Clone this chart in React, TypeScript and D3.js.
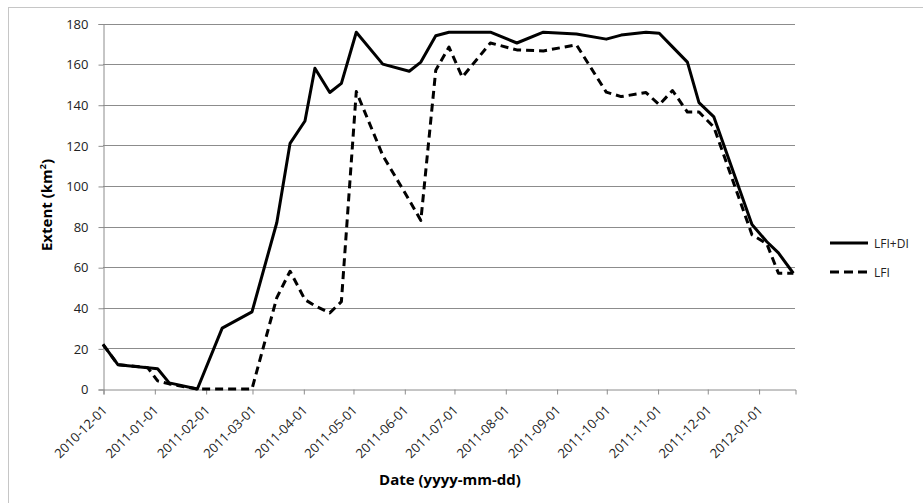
import { useEffect, useRef } from 'react';
import * as d3 from 'd3';

// sample dates of the composites
const dates = [
  '2010-12-01', '2010-12-10', '2010-12-28', '2011-01-03', '2011-01-10', '2011-01-27',
  '2011-02-11', '2011-03-01', '2011-03-16', '2011-03-24', '2011-04-02', '2011-04-08',
  '2011-04-17', '2011-04-24', '2011-05-03', '2011-05-19', '2011-06-04', '2011-06-11',
  '2011-06-20', '2011-06-28', '2011-07-06', '2011-07-23', '2011-08-08', '2011-08-24',
  '2011-09-13', '2011-10-01', '2011-10-10', '2011-10-25', '2011-11-02', '2011-11-10',
  '2011-11-19', '2011-11-26', '2011-12-05', '2011-12-28', '2012-01-06', '2012-01-13',
  '2012-01-22',
];

const lfiDi = [
  22, 12, 10.5, 10, 3, 0,
  30, 38, 82, 121, 132, 158,
  146, 150.5, 175.7, 160, 156.5, 161,
  174, 175.7, 175.7, 175.7, 170.4, 175.7,
  174.8, 172.3, 174.3, 175.7, 175.2, 168.5,
  161, 141, 134, 81, 72.5, 67,
  57,
];

const lfi = [
  22, 12, 10.5, 4, 2.5, 0,
  0, 0, 45, 58, 44, 41,
  37.5, 43, 146.5, 115, 93, 83,
  157, 168.4, 153.6, 170.4, 167, 166.5,
  169.5, 146.2, 144, 146, 140, 147,
  136.4, 136.4, 129, 76, 71.5, 57,
  57,
];

const yTicks = [0, 20, 40, 60, 80, 100, 120, 140, 160, 180];

const monthTicks = [
  '2010-12-01', '2011-01-01', '2011-02-01', '2011-03-01', '2011-04-01', '2011-05-01',
  '2011-06-01', '2011-07-01', '2011-08-01', '2011-09-01', '2011-10-01', '2011-11-01',
  '2011-12-01', '2012-01-01',
];

const seriesNames = ['LFI+DI', 'LFI'];

export default function App() {
  const svgRef = useRef<SVGSVGElement>(null);

  useEffect(() => {
    if (!svgRef.current) return;
    const svg = d3.select(svgRef.current);
    svg.selectAll('*').remove();

    const parse = d3.utcParse('%Y-%m-%d');
    const fmt = d3.utcFormat('%Y-%m-%d');
    const font = '"Open Sans", sans-serif';

    // plot area
    const left = 103, right = 795, top = 23.5, bottom = 389;

    const x = d3.scaleUtc()
      .domain([parse('2010-12-01')!, parse('2012-01-23')!])
      .range([left, right]);
    const y = d3.scaleLinear().domain([0, 180]).range([bottom, top]);

    // outer chart border
    svg.append('rect')
      .attr('x', 8.5).attr('y', 7.5)
      .attr('width', 930).attr('height', 510)
      .attr('fill', 'white')
      .attr('stroke', '#c6c6c6');

    // horizontal grid lines
    svg.append('g')
      .selectAll('line')
      .data(yTicks.filter(d => d > 0))
      .join('line')
      .attr('x1', left).attr('x2', right)
      .attr('y1', d => Math.round(y(d)) + 0.5)
      .attr('y2', d => Math.round(y(d)) + 0.5)
      .attr('stroke', '#8c8c8c');

    // y axis
    const yAxis = svg.append('g')
      .attr('transform', `translate(${left + 0.5},0.5)`)
      .call(d3.axisLeft(y).tickValues(yTicks).tickSize(5).tickPadding(10));
    yAxis.select('.domain').attr('stroke', '#8c8c8c');
    yAxis.selectAll('.tick line').attr('stroke', '#8c8c8c');
    yAxis.selectAll('.tick text')
      .attr('fill', '#222')
      .style('font-family', font)
      .style('font-size', '13px');

    // x axis
    const tickDates = monthTicks.map(d => parse(d)!);
    const xAxis = svg.append('g')
      .attr('transform', `translate(0.5,${bottom + 0.5})`)
      .call(d3.axisBottom(x).tickValues(tickDates).tickSizeOuter(0).tickSize(5).tickFormat(() => ''));
    xAxis.select('.domain').attr('stroke', '#8c8c8c');
    xAxis.selectAll('.tick line').attr('stroke', '#8c8c8c');

    svg.append('g')
      .selectAll('text')
      .data(tickDates)
      .join('text')
      .attr('transform', d => `translate(${x(d) + 5},${bottom + 22}) rotate(-45)`)
      .attr('text-anchor', 'end')
      .attr('fill', '#222')
      .style('font-family', font)
      .style('font-size', '13px')
      .text(d => fmt(d));

    // lines
    const points = (vals: number[]) => dates.map((d, i) => ({ date: parse(d)!, value: vals[i] }));
    const line = d3.line<{ date: Date; value: number }>()
      .x(d => x(d.date))
      .y(d => y(d.value));

    svg.append('path')
      .datum(points(lfiDi))
      .attr('d', line)
      .attr('fill', 'none')
      .attr('stroke', '#000')
      .attr('stroke-width', 3)
      .attr('stroke-linejoin', 'round');

    svg.append('path')
      .datum(points(lfi))
      .attr('d', line)
      .attr('fill', 'none')
      .attr('stroke', '#000')
      .attr('stroke-width', 3)
      .attr('stroke-dasharray', '8,5')
      .attr('stroke-linejoin', 'round');

    // legend
    const legend = svg.append('g').attr('transform', 'translate(830,243)');
    seriesNames.forEach((name, i) => {
      const g = legend.append('g').attr('transform', `translate(0,${i * 29})`);
      g.append('line')
        .attr('x1', 0).attr('x2', 38)
        .attr('stroke', '#000')
        .attr('stroke-width', 3)
        .attr('stroke-dasharray', i === 1 ? '9,5' : null);
      g.append('text')
        .attr('x', 44).attr('y', 4.5)
        .attr('fill', '#222')
        .style('font-family', font)
        .style('font-size', '12px')
        .text(name);
    });

    // axis titles
    svg.append('text')
      .attr('x', 450).attr('y', 485)
      .attr('text-anchor', 'middle')
      .style('font-family', font)
      .style('font-size', '15px')
      .style('font-weight', 'bold')
      .text('Date (yyyy-mm-dd)');

    const yTitle = svg.append('text')
      .attr('transform', 'translate(52,205) rotate(-90)')
      .attr('text-anchor', 'middle')
      .style('font-family', font)
      .style('font-size', '15px')
      .style('font-weight', 'bold');
    yTitle.append('tspan').text('Extent (km');
    yTitle.append('tspan').attr('dy', -6).style('font-size', '9px').text('2');
    yTitle.append('tspan').attr('dy', 6).text(')');
  }, []);

  return (
    <svg
      ref={svgRef}
      width={923}
      height={503}
      style={{ position: 'absolute', left: 0, top: 0, background: 'white' }}
    />
  );
}
